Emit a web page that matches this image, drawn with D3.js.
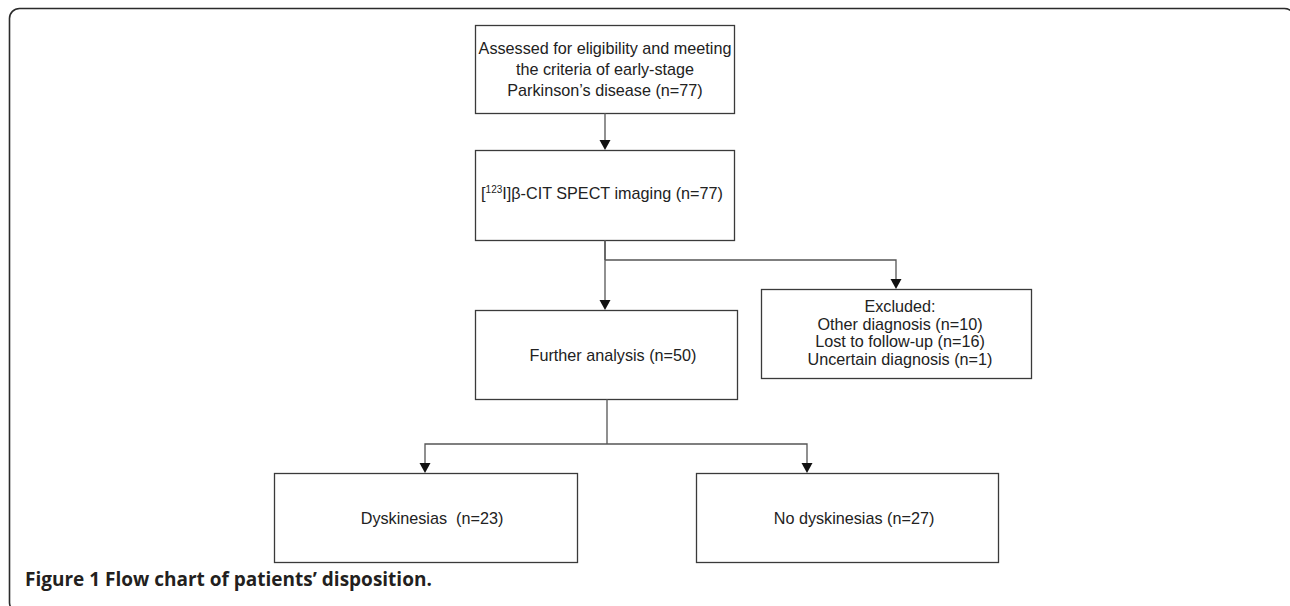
<!DOCTYPE html>
<html>
<head>
<meta charset="utf-8">
<script src="https://cdn.jsdelivr.net/npm/d3@7"></script>
<style>
  body { margin: 0; background: #fff; }
  svg { display: block; }
</style>
</head>
<body>
<div id="chart"></div>
<script>
// box labels (text only)
const boxIds = ["screen", "spect", "further", "excluded", "dysk", "nodysk"];
const boxLabels = [
  ["Assessed for eligibility and meeting", "the criteria of early-stage", "Parkinson\u2019s disease (n=77)"],
  ["[123I]\u03b2-CIT SPECT imaging (n=77)"],
  ["Further analysis (n=50)"],
  ["Excluded:", "Other diagnosis (n=10)", "Lost to follow-up (n=16)", "Uncertain diagnosis (n=1)"],
  ["Dyskinesias  (n=23)"],
  ["No dyskinesias (n=27)"]
];
// flows between boxes
const links = [
  ["screen", "spect"],
  ["spect", "further"],
  ["spect", "excluded"],
  ["further", "dysk"],
  ["further", "nodysk"]
];
const caption = "Figure 1 Flow chart of patients\u2019 disposition.";

const width = 1290, height = 606;

const svg = d3.select("#chart")
  .append("svg")
  .attr("width", width)
  .attr("height", height);

// layout of the boxes on the page
const layout = {
  screen:   { x0: 475, x1: 734, y0: 25,  y1: 113, tx: 605, ty: 69,  lh: 21 },
  spect:    { x0: 475, x1: 734, y0: 150, y1: 240, tx: 602, ty: 193, lh: 20 },
  further:  { x0: 475, x1: 737, y0: 310, y1: 399, tx: 613, ty: 355, lh: 20 },
  excluded: { x0: 761, x1: 1031, y0: 289, y1: 378, tx: 900, ty: 333, lh: 17.7 },
  dysk:     { x0: 274, x1: 577, y0: 473, y1: 562, tx: 432, ty: 518, lh: 20 },
  nodysk:   { x0: 696, x1: 998, y0: 473, y1: 562, tx: 854, ty: 518, lh: 20 }
};
// x of the vertical stems and branch heights
const stemX = { screen: 605, spect: 605, further: 607 };
const targetX = { spect: 605, further: 605, excluded: 896, dysk: 425, nodysk: 807 };
const branchY = { spect: 260, further: 444 };

// frame
svg.append("rect")
  .attr("x", 9.5).attr("y", 8.5)
  .attr("width", 1285).attr("height", 604)
  .attr("rx", 10).attr("ry", 10)
  .attr("fill", "none")
  .attr("stroke", "#2b2b2b")
  .attr("stroke-width", 1.6);

const boxes = boxIds.map((id, i) => ({ id, lines: boxLabels[i], ...layout[id] }));

svg.selectAll("rect.box")
  .data(boxes)
  .join("rect")
  .attr("class", "box")
  .attr("x", d => d.x0 + 0.5)
  .attr("y", d => d.y0 + 0.5)
  .attr("width", d => d.x1 - d.x0)
  .attr("height", d => d.y1 - d.y0)
  .attr("fill", "none")
  .attr("stroke", "#3a3a3a")
  .attr("stroke-width", 1.3);

const txt = svg.selectAll("text.lbl")
  .data(boxes)
  .join("text")
  .attr("class", "lbl")
  .attr("font-family", "'Liberation Sans', Arial, sans-serif")
  .attr("font-size", 16.2)
  .attr("fill", "#222")
  .attr("text-anchor", "middle")
  .style("white-space", "pre");

txt.each(function (d) {
  const t = d3.select(this);
  const n = d.lines.length;
  d.lines.forEach((line, i) => {
    const y = d.ty + (i - (n - 1) / 2) * d.lh + 5.5;
    const m = line.match(/^\[(\d+)(.*)$/);
    if (m) {
      // superscript isotope number
      t.append("tspan").attr("x", d.tx).attr("y", y).text("[");
      t.append("tspan").attr("font-size", 10).attr("dy", -6).text(m[1]);
      t.append("tspan").attr("dy", 6).text(m[2]);
    } else {
      t.append("tspan").attr("x", d.tx).attr("y", y).text(line);
    }
  });
});

// connectors
const conn = svg.append("g")
  .attr("fill", "none")
  .attr("stroke", "#555")
  .attr("stroke-width", 1.3);

const arrowH = 10, arrowW = 11;
const drawn = new Set();
links.forEach(([s, t]) => {
  const src = layout[s], dst = layout[t];
  const sx = stemX[s], tx = targetX[t];
  const path = d3.path();
  const fanOut = links.filter(l => l[0] === s).length > 1;
  if (!fanOut || (sx === tx && s === "spect")) {
    path.moveTo(sx, src.y1);
    path.lineTo(tx, dst.y0 - arrowH);
  } else {
    const by = branchY[s];
    if (!drawn.has(s)) {
      path.moveTo(sx, src.y1);
      path.lineTo(sx, by);
      drawn.add(s);
    }
    path.moveTo(sx, by);
    path.lineTo(tx, by);
    path.lineTo(tx, dst.y0 - arrowH);
  }
  conn.append("path").attr("d", path.toString());
  svg.append("path")
    .attr("d", `M${tx - arrowW / 2},${dst.y0 - arrowH}L${tx + arrowW / 2},${dst.y0 - arrowH}L${tx},${dst.y0}Z`)
    .attr("fill", "#111");
});

// caption
svg.append("text")
  .attr("x", 25)
  .attr("y", 586)
  .attr("font-family", "'Open Sans', 'Noto Sans', sans-serif")
  .attr("font-weight", "bold")
  .attr("font-size", 19)
  .attr("fill", "#231f20")
  .text(caption);
</script>
</body>
</html>
